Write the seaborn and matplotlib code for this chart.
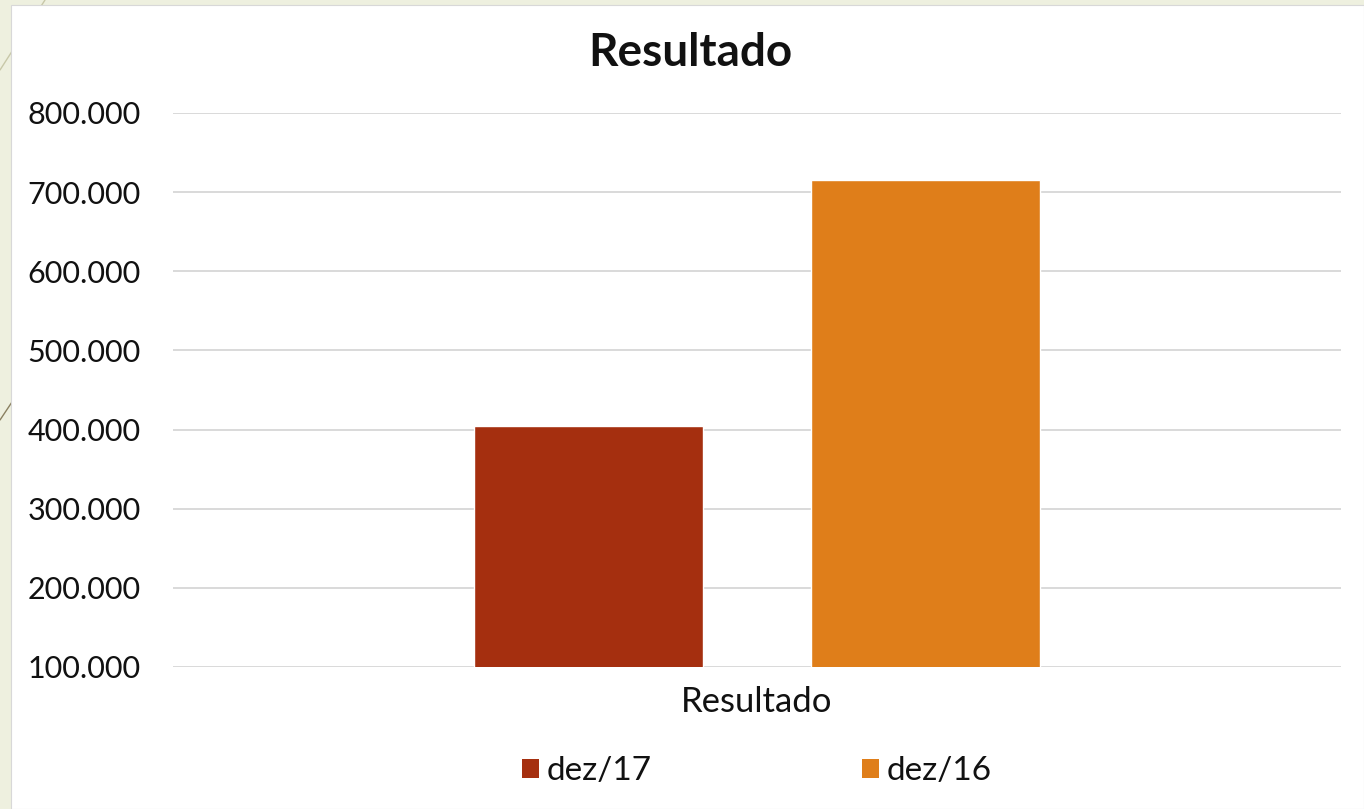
import matplotlib
matplotlib.use("Agg")
import matplotlib.pyplot as plt
from matplotlib.patches import Rectangle, Patch
from matplotlib.lines import Line2D
import seaborn as sns
import pandas as pd

# Data
categorias = ["Resultado"]
periodos = ["dez/17", "dez/16"]
valores = [404000, 715000]
cores = ["#A52F0F", "#DF7E1A"]
y_ticks = [100000, 200000, 300000, 400000, 500000, 600000, 700000, 800000]

sns.set_theme(style="white")
plt.rcParams["font.family"] = ["Lato", "DejaVu Sans"]

df = pd.DataFrame({
    "categoria": categorias * len(periodos),
    "periodo": periodos,
    "valor": valores,
})

W, H = 1364, 809
fig = plt.figure(figsize=(W / 100, H / 100), dpi=100, facecolor="#EEF0DF")

# white chart area over the slide background + faint slide decoration lines
fig.add_artist(Line2D([0 / W, 45 / W], [1 - 70 / H, 1.0], color="#C8C8A8", lw=1, zorder=-10))
fig.add_artist(Line2D([0 / W, 12 / W], [1 - 420 / H, 1 - 402 / H], color="#8A8060", lw=1, zorder=-10))
fig.add_artist(Rectangle((11 / W, 0), 1 - 11 / W, 1 - 5 / H, transform=fig.transFigure,
                         facecolor="white", edgecolor="#D8D8D8", lw=0.8, zorder=-5))

ax = fig.add_axes([173 / W, 1 - 667 / H, 1168 / W, 554 / H])
ax.set_facecolor("none")

sns.barplot(data=df, x="categoria", y="valor", hue="periodo", hue_order=periodos,
            palette=cores, width=0.577, gap=0.32, saturation=1, ax=ax, legend=False)

ax.set_ylim(y_ticks[0], y_ticks[-1])
ax.set_yticks(y_ticks)
ax.set_yticklabels([f"{v:,.0f}".replace(",", ".") for v in y_ticks])
ax.set_axisbelow(True)
ax.yaxis.grid(True, color="#D9D9D9", lw=1.4)
ax.xaxis.grid(False)
for s in ax.spines.values():
    s.set_visible(False)
ax.tick_params(axis="y", length=0, pad=23, labelsize=22, labelcolor="#111111")
ax.tick_params(axis="x", length=0, pad=14, labelsize=25, labelcolor="#111111")
ax.set_xlabel("")
ax.set_ylabel("")

fig.text(690 / W, 1 - 53 / H, "Resultado", ha="center", va="center",
         fontsize=33, fontweight="bold", color="#111111")

handles = [Patch(facecolor=c, edgecolor="none") for c in cores]
fig.legend(handles, periodos, loc="center", bbox_to_anchor=(757 / W, 1 - 771 / H),
           ncol=2, frameon=False, fontsize=24, handlelength=0.5, handleheight=0.5,
           handletextpad=0.25, columnspacing=6.3, labelcolor="#111111")

fig.savefig("out.png", dpi=100, facecolor=fig.get_facecolor())
